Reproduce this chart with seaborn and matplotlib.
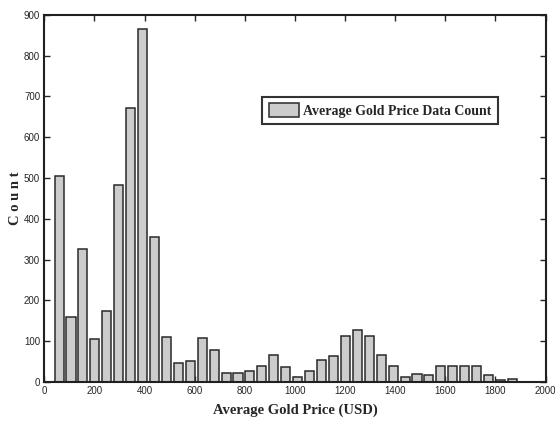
import numpy as np
import pandas as pd
import matplotlib
matplotlib.use("Agg")
import matplotlib.pyplot as plt
import seaborn as sns

# ---------------- DATA ----------------
counts = [505, 160, 327, 106, 173, 482, 671, 866, 356, 110,
          47, 52, 108, 79, 21, 23, 26, 40, 65, 37,
          12, 28, 54, 63, 112, 128, 112, 67, 40, 12,
          19, 17, 40, 40, 38, 38, 17, 5, 7]
price_min = 35.2
price_max = 1891.6
legend_label = "Average Gold Price Data Count"
x_label = "Average Gold Price (USD)"
y_label = "C o u n t"
x_ticks = list(range(0, 2001, 200))
y_ticks = list(range(0, 901, 100))

# ---------------- BINS ----------------
edges = np.linspace(price_min, price_max, len(counts) + 1)
centers = (edges[:-1] + edges[1:]) / 2
df = pd.DataFrame({"price": centers, "count": counts})

# ---------------- VISUALIZATION ----------------
sns.set_style("white")
plt.rcParams["font.family"] = ["Liberation Sans Narrow", "Liberation Sans", "DejaVu Sans"]

fig = plt.figure(figsize=(5.55, 4.23), dpi=100)
ax = fig.add_axes([0.0798, 0.097, 0.9032, 0.868])

sns.histplot(
    data=df, x="price", weights="count", bins=len(counts),
    binrange=(price_min, price_max), shrink=0.76,
    color="#cccccc", alpha=1, edgecolor="#2a2a2a", linewidth=1.1,
    label=legend_label, ax=ax
)

ax.set_xlim(0, 2000)
ax.set_ylim(0, 900)
ax.set_xticks(x_ticks)
ax.set_yticks(y_ticks)
ax.tick_params(direction="in", top=True, right=True, length=4, width=1,
               labelsize=7, pad=3, bottom=True, left=True)
for s in ax.spines.values():
    s.set_linewidth(1.5)
    s.set_color("#202020")

ax.set_xlabel(x_label, family="Liberation Serif", fontweight="bold", fontsize=10.5, labelpad=5)
ax.set_ylabel(y_label, family="Liberation Serif", fontweight="bold", fontsize=10.5, labelpad=1)

leg = ax.legend(loc="center", bbox_to_anchor=(0.67, 0.74), frameon=True, fancybox=False,
                prop={"family": "Liberation Serif", "weight": "bold", "size": 10},
                handlelength=2.2, handleheight=1.2, handletextpad=0.3, borderpad=0.45)
leg.get_frame().set_edgecolor("black")
leg.get_frame().set_linewidth(1.5)

fig.savefig("out.png", dpi=100)
